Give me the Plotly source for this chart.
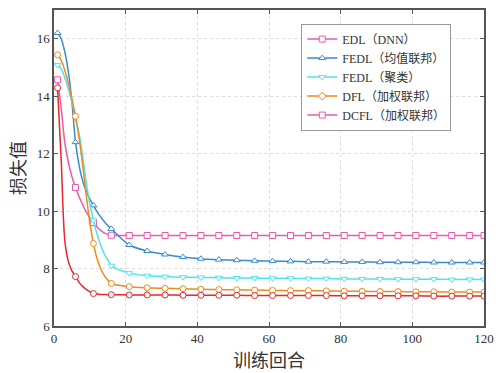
import plotly.graph_objects as go

# Training epochs (dense at the start where the loss falls quickly)
epochs = [1, 2, 3, 4, 5, 6, 7, 8, 9, 10, 11, 12, 13, 14, 15, 16,
          21, 26, 31, 36, 41, 46, 51, 56, 61, 66, 71, 76, 81, 86, 91, 96,
          101, 106, 111, 116, 120]

loss_edl = [14.57, 13.6, 12.4, 11.7, 11.2, 10.82, 10.5, 10.22, 9.97, 9.77,
            9.6, 9.45, 9.33, 9.24, 9.19, 9.16,
            9.15, 9.15, 9.15, 9.15, 9.15, 9.15, 9.15, 9.15, 9.15, 9.15, 9.15,
            9.15, 9.15, 9.15, 9.15, 9.15, 9.15, 9.15, 9.15, 9.15, 9.15]

loss_fedl_avg = [16.2, 16.0, 15.55, 14.85, 13.8, 12.4, 11.6, 11.05, 10.7, 10.42,
                 10.2, 9.98, 9.8, 9.64, 9.5, 9.38,
                 8.82, 8.61, 8.49, 8.40, 8.34, 8.31, 8.29, 8.27, 8.26, 8.25, 8.24,
                 8.24, 8.23, 8.23, 8.22, 8.22, 8.22, 8.21, 8.21, 8.21, 8.21]

loss_fedl_cluster = [15.09, 14.95, 14.65, 14.25, 13.78, 13.24, 12.7, 11.9, 11.0, 10.25,
                     9.68, 9.2, 8.82, 8.52, 8.3, 8.1,
                     7.84, 7.75, 7.72, 7.70, 7.69, 7.68, 7.67, 7.67, 7.66, 7.66, 7.65,
                     7.65, 7.64, 7.64, 7.64, 7.63, 7.63, 7.63, 7.62, 7.62, 7.62]

loss_dfl = [15.44, 15.25, 14.9, 14.45, 13.9, 13.3, 12.55, 11.6, 10.55, 9.6,
            8.87, 8.35, 8.0, 7.76, 7.6, 7.48,
            7.37, 7.33, 7.31, 7.30, 7.28, 7.27, 7.26, 7.25, 7.24, 7.23, 7.23,
            7.22, 7.21, 7.21, 7.20, 7.20, 7.19, 7.19, 7.18, 7.18, 7.18]

loss_dcfl = [14.29, 11.8, 9.0, 8.25, 7.92, 7.72, 7.52, 7.38, 7.27, 7.19,
             7.13, 7.11, 7.10, 7.10, 7.09, 7.09,
             7.08, 7.08, 7.08, 7.07, 7.07, 7.07, 7.07, 7.06, 7.06, 7.06, 7.06,
             7.06, 7.05, 7.05, 7.05, 7.05, 7.05, 7.04, 7.04, 7.04, 7.04]

x_ticks = [0, 20, 40, 60, 80, 100, 120]
y_ticks = [6, 8, 10, 12, 14, 16]

# name, values, line colour, plot marker, legend colour, legend marker
series = [
    ("EDL（DNN）", loss_edl, "#e95aaa", "square", "#e95aaa", "square"),
    ("FEDL（均值联邦）", loss_fedl_avg, "#3a8ad0", "triangle-up", "#3a8ad0", "triangle-up"),
    ("FEDL（聚类）", loss_fedl_cluster, "#4fe3ee", "triangle-down", "#4fe3ee", "triangle-down"),
    ("DFL（加权联邦）", loss_dfl, "#ef8a1c", "circle", "#ef8a1c", "diamond"),
    ("DCFL（加权联邦）", loss_dcfl, "#e8262b", "circle", "#ec5a9c", "square"),
]

# markers every fifth epoch plus the final one
mark_idx = [i for i, e in enumerate(epochs) if (e - 1) % 5 == 0 or e == epochs[-1]]

fig = go.Figure()
for name, vals, col, sym, lcol, lsym in series:
    fig.add_trace(go.Scatter(
        x=epochs, y=vals, mode="lines",
        line=dict(color=col, width=1.5, shape="spline", smoothing=0.8),
        showlegend=False, hoverinfo="skip"))
    fig.add_trace(go.Scatter(
        x=[epochs[i] for i in mark_idx], y=[vals[i] for i in mark_idx],
        mode="markers",
        marker=dict(symbol=sym, size=6, color="white",
                    line=dict(color=col, width=1)),
        showlegend=False))
for name, vals, col, sym, lcol, lsym in series:
    fig.add_trace(go.Scatter(
        x=[None], y=[None], mode="lines+markers", name=name,
        line=dict(color=lcol, width=1.5),
        marker=dict(symbol=lsym, size=6, color="white",
                    line=dict(color=lcol, width=1))))

tick_font = dict(family="Liberation Serif, Noto Sans CJK SC", size=13, color="#333")
axis_common = dict(
    showline=True, linecolor="#555", linewidth=1.5, mirror="ticks",
    ticks="inside", ticklen=4, tickcolor="#555", tickwidth=1,
    showgrid=True, gridcolor="#dcdcdc", griddash="dot", gridwidth=1,
    zeroline=False, tickfont=tick_font,
)

fig.update_layout(
    width=502, height=373,
    margin=dict(l=54, r=12, t=8, b=47),
    plot_bgcolor="white", paper_bgcolor="white",
    xaxis=dict(range=[0, 120], tickvals=x_ticks,
               title=dict(text="训练回合", standoff=2,
                          font=dict(family="Noto Sans CJK SC", size=18, color="#333")),
               **axis_common),
    yaxis=dict(range=[6, 17], tickvals=y_ticks,
               title=dict(text="损失值", standoff=6,
                          font=dict(family="Noto Sans CJK SC", size=18, color="#333")),
               **axis_common),
    legend=dict(x=0.575, y=0.957, xanchor="left", yanchor="top",
                bgcolor="white", bordercolor="#999", borderwidth=1,
                font=dict(family="Liberation Serif, Noto Sans CJK SC", size=12, color="#333"),
                itemwidth=30, tracegroupgap=0),
)

fig.write_html("out.html")
